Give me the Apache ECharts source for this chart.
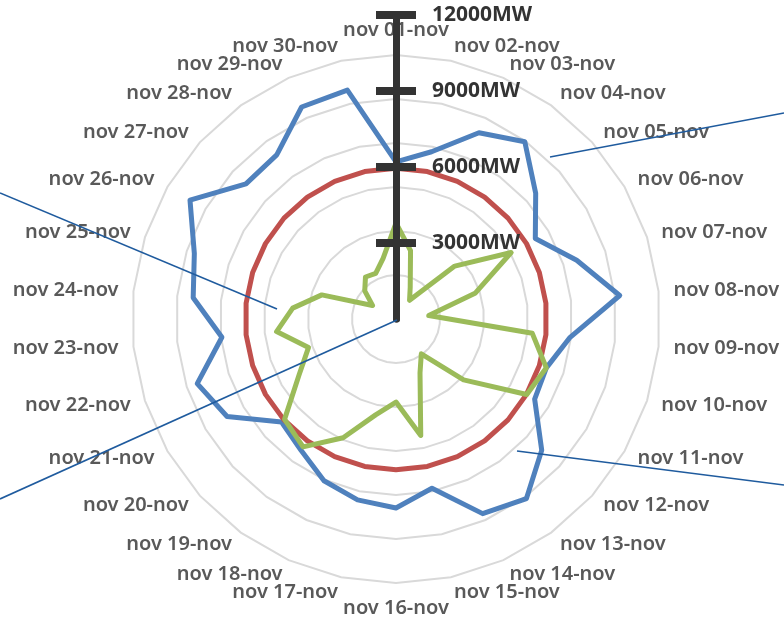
<!DOCTYPE html>
<html>
<head>
<meta charset="utf-8">
<title>radar</title>
<script src="https://cdn.jsdelivr.net/npm/echarts@6/dist/echarts.min.js"></script>
<style>
  html, body { margin: 0; padding: 0; background: #fff; }
  #chart { width: 784px; height: 620px; }
</style>
</head>
<body>
<div id="chart"></div>
<script>
// categories (clockwise from the top)
const days = [
  'nov 01-nov', 'nov 02-nov', 'nov 03-nov', 'nov 04-nov', 'nov 05-nov',
  'nov 06-nov', 'nov 07-nov', 'nov 08-nov', 'nov 09-nov', 'nov 10-nov',
  'nov 11-nov', 'nov 12-nov', 'nov 13-nov', 'nov 14-nov', 'nov 15-nov',
  'nov 16-nov', 'nov 17-nov', 'nov 18-nov', 'nov 19-nov', 'nov 20-nov',
  'nov 21-nov', 'nov 22-nov', 'nov 23-nov', 'nov 24-nov', 'nov 25-nov',
  'nov 26-nov', 'nov 27-nov', 'nov 28-nov', 'nov 29-nov', 'nov 30-nov'
];
// MW values
const blueValues = [
  6200, 6750, 8050, 8650, 7420, 6350, 7500, 8880, 6910, 6240,
  6320, 7740, 8760, 8410, 6830, 7460, 7300, 6990, 6390, 6080,
  7700, 8250, 6910, 8050, 8370, 9390, 7970, 8010, 9160, 9240
];
const redValues = [
  5950, 5950, 5950, 5950, 5950, 5950, 5950, 5950, 5950, 5950,
  5950, 5950, 5950, 5950, 5950, 5950, 5950, 5950, 5950, 5950,
  5950, 5950, 5950, 5950, 5950, 5950, 5950, 5950, 5950, 5950
];
const greenValues = [
  3790, 2760, 1380, 910, 3120, 5250, 3280, 1300, 5410, 6240,
  5960, 3590, 1700, 2330, 4700, 3280, 3870, 5130, 6240, 5920,
  4420, 3630, 4740, 4100, 3080, 1070, 1660, 2050, 1970, 2450
];
const axisTicks = [3000, 6000, 9000, 12000];

// geometry
const cx = 396, cy = 319;
const radarRadius = 264;
const axisTop = 15;
const axisMax = 12000;
const radarMax = axisMax * radarRadius / (cy - axisTop);

// echarts radar goes counter-clockwise, so walk the days backwards
const order = days.map((d, i) => (days.length - i) % days.length);
const pick = arr => order.map(i => arr[i]);

const myChart = echarts.init(document.getElementById('chart'));

const radarLine = (color) => ({
  symbol: 'none',
  lineStyle: { color: color, width: 5, join: 'round' },
  itemStyle: { color: color }
});

const option = {
  backgroundColor: '#fff',
  animation: false,
  radar: {
    center: [cx, cy],
    radius: radarRadius,
    startAngle: 90,
    shape: 'polygon',
    splitNumber: 6,
    nameGap: 15,
    indicator: order.map(i => ({ name: days[i], min: 0, max: radarMax })),
    axisName: {
      color: '#595959',
      fontFamily: 'Noto Sans',
      fontSize: 20,
      fontWeight: 600
    },
    axisLine: { show: false },
    axisTick: { show: false },
    axisLabel: { show: false },
    splitArea: { show: false },
    splitLine: { lineStyle: { color: '#d9d9d9', width: 2 } }
  },
  grid: { left: cx, top: axisTop, width: 10, height: cy - axisTop },
  xAxis: { type: 'value', show: false },
  yAxis: [
    {
      type: 'value', min: 0, max: axisMax, interval: 3000, position: 'left', z: 10,
      axisLine: { show: true, lineStyle: { color: '#333', width: 7 } },
      axisTick: { show: true, length: 20, customValues: axisTicks, lineStyle: { color: '#333', width: 8 } },
      axisLabel: { show: false },
      splitLine: { show: false }
    },
    {
      type: 'value', min: 0, max: axisMax, interval: 3000, position: 'left', z: 10,
      axisLine: { show: true, lineStyle: { color: '#333', width: 7 } },
      axisTick: { show: true, inside: true, length: 20, customValues: axisTicks, lineStyle: { color: '#333', width: 8 } },
      axisLabel: {
        show: true, inside: true, margin: 36, customValues: axisTicks,
        formatter: v => v + 'MW', color: '#333', fontFamily: 'Noto Sans',
        fontSize: 21, fontWeight: 'bold', padding: [7, 0, 0, 0]
      },
      splitLine: { show: false }
    }
  ],
  series: [
    {
      type: 'radar',
      data: [
        Object.assign({ name: 'Serie 1', value: pick(blueValues) }, radarLine('#4f81bd')),
        Object.assign({ name: 'Serie 2', value: pick(redValues) }, radarLine('#c0504d')),
        Object.assign({ name: 'Serie 3', value: pick(greenValues) }, radarLine('#9bbb59'))
      ]
    }
  ],
  graphic: [
    { type: 'line', z: 20, shape: { x1: cx + 1, y1: cy + 1, x2: 0, y2: 499 }, style: { stroke: '#1f5b9e', lineWidth: 1.6 } },
    { type: 'line', z: 20, shape: { x1: 277, y1: 309, x2: 0, y2: 193 }, style: { stroke: '#1f5b9e', lineWidth: 1.6 } },
    { type: 'line', z: 20, shape: { x1: 550, y1: 157, x2: 784, y2: 113 }, style: { stroke: '#1f5b9e', lineWidth: 1.6 } },
    { type: 'line', z: 20, shape: { x1: 517, y1: 451, x2: 784, y2: 485 }, style: { stroke: '#1f5b9e', lineWidth: 1.6 } }
  ]
};

myChart.setOption(option);
</script>
</body>
</html>
